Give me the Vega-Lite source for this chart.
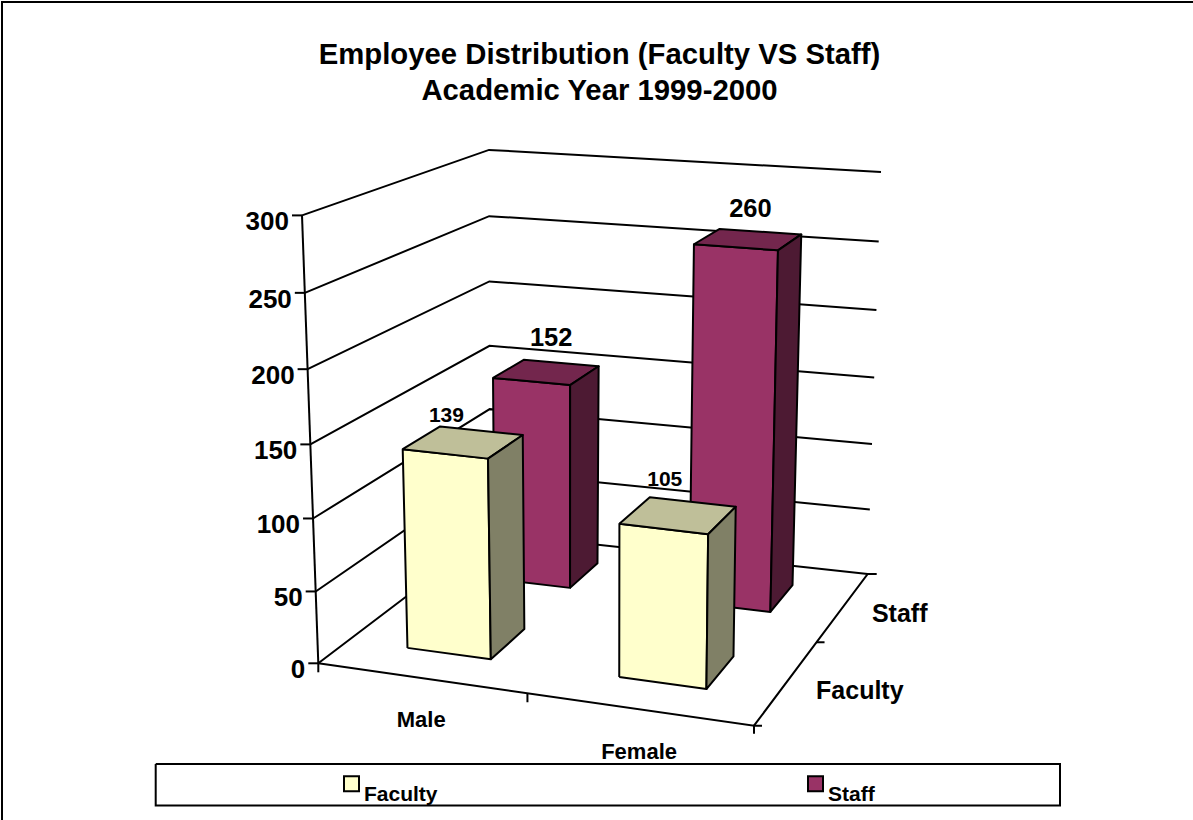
{
"$schema":"https://vega.github.io/schema/vega-lite/v6.json",
"width":1193,"height":820,"padding":0,"autosize":"none",
"background":"white",
"view":{"stroke":null},
"title":{"text":["Employee Distribution (Faculty VS Staff)","Academic Year 1999-2000"],"font":"Liberation Sans","fontSize":29.3,"fontWeight":"bold","color":"black","anchor":"middle","dx":3,"offset":-108,"lineHeight":36,"baseline":"top"},
"data":{"values":[
{"kind":"gridline","value":0},{"kind":"gridline","value":50},{"kind":"gridline","value":100},{"kind":"gridline","value":150},{"kind":"gridline","value":200},{"kind":"gridline","value":250},{"kind":"gridline","value":300},
{"kind":"floor"},
{"kind":"xcat","name":"Male"},{"kind":"xcat","name":"Female"},
{"kind":"ycat","name":"Faculty"},{"kind":"ycat","name":"Staff"},
{"kind":"bar","gender":"Male","series":"Staff","count":152},
{"kind":"bar","gender":"Female","series":"Staff","count":260},
{"kind":"bar","gender":"Male","series":"Faculty","count":139},
{"kind":"bar","gender":"Female","series":"Faculty","count":105}
]},
"transform":[
{"calculate":"datum.kind=='bar'?[{role:'face',face:'1front',o:0,a:0,b:0,t:0},{role:'face',face:'1front',o:1,a:1,b:0,t:0},{role:'face',face:'1front',o:2,a:1,b:0,t:1},{role:'face',face:'1front',o:3,a:0,b:0,t:1},{role:'face',face:'1front',o:4,a:0,b:0,t:0},{role:'face',face:'2top',o:0,a:0,b:0,t:1},{role:'face',face:'2top',o:1,a:1,b:0,t:1},{role:'face',face:'2top',o:2,a:1,b:1,t:1},{role:'face',face:'2top',o:3,a:0,b:1,t:1},{role:'face',face:'2top',o:4,a:0,b:0,t:1},{role:'face',face:'3side',o:0,a:1,b:0,t:0},{role:'face',face:'3side',o:1,a:1,b:1,t:0},{role:'face',face:'3side',o:2,a:1,b:1,t:1},{role:'face',face:'3side',o:3,a:1,b:0,t:1},{role:'face',face:'3side',o:4,a:1,b:0,t:0},{role:'barLabel',o:0,a:0.5,b:1,t:1,ox:datum.series=='Staff'?-10:(datum.gender=='Male'?-35:-28),oy:datum.series=='Staff'?(datum.gender=='Male'?-25:-23):(datum.gender=='Male'?-15:-22)}]:datum.kind=='gridline'?[{role:'line',face:'grid',o:0,u:0,v:0},{role:'line',face:'grid',o:1,u:0,v:1},{role:'line',face:'grid',o:2,u:1,v:1},{role:'line',face:'tick',o:0,u:0,v:0,ox:0},{role:'line',face:'tick',o:1,u:0,v:0,ox:-10},{role:'valueLabel',o:0,u:0,v:0,ox:-13,oy:7}]:datum.kind=='floor'?[{role:'line',face:'axis',o:0,u:0,v:0,val:0},{role:'line',face:'axis',o:1,u:0,v:0,val:300},{role:'line',face:'edge',o:0,u:0,v:0},{role:'line',face:'edge',o:1,u:1,v:0},{role:'line',face:'edge',o:2,u:1,v:1},{role:'line',face:'edge',o:3,u:1,v:1,ox:9},{role:'line',face:'t1',o:0,u:0,v:0},{role:'line',face:'t1',o:1,u:0,v:0,oy:9},{role:'line',face:'t2',o:0,u:0.48,v:0},{role:'line',face:'t2',o:1,u:0.48,v:0,oy:9},{role:'line',face:'t3',o:0,u:1,v:0,oy:8},{role:'line',face:'t3',o:1,u:1,v:0},{role:'line',face:'t3',o:2,u:1,v:0,ox:8},{role:'line',face:'t4',o:0,u:1,v:0.55},{role:'line',face:'t4',o:1,u:1,v:0.55,ox:8},{role:'line',face:'border',o:0,ax:2,ay:820},{role:'line',face:'border',o:1,ax:2,ay:2},{role:'line',face:'border',o:2,ax:1193,ay:2},{role:'line',face:'legendbox',o:0,ax:155.7,ay:764},{role:'line',face:'legendbox',o:1,ax:1060,ay:764},{role:'line',face:'legendbox',o:2,ax:1060,ay:805.5},{role:'line',face:'legendbox',o:3,ax:155.7,ay:805.5},{role:'line',face:'legendbox',o:4,ax:155.7,ay:764}]:datum.kind=='xcat'?[{role:'catLabel',o:0,u:datum.name=='Male'?0.25:0.75,v:0,ox:-6,oy:datum.name=='Male'?41:42}]:[{role:'serLabel',o:0,u:1,v:datum.name=='Faculty'?0.28:0.78,ox:datum.name=='Faculty'?74:57,oy:datum.name=='Faculty'?8:7}]","as":"vert"},
{"flatten":["vert"]},
{"calculate":"datum.vert.role","as":"role"},
{"calculate":"(datum.gender||'')+(datum.series||'')+(datum.value==null?'':datum.value)+(datum.vert.face||'')","as":"path"},
{"calculate":"datum.vert.o","as":"ord"},
{"calculate":"datum.kind=='bar'?(datum.gender=='Male'?(datum.series=='Faculty'?0.137+datum.vert.a*0.196:0.142+datum.vert.a*0.191):0.635+datum.vert.a*0.205):datum.vert.u","as":"u"},
{"calculate":"datum.kind=='bar'?(datum.series=='Faculty'?0.18+datum.vert.b*0.22:0.7+datum.vert.b*0.18):datum.vert.v","as":"w"},
{"calculate":"datum.vert.val!=null?datum.vert.val:datum.kind=='bar'?datum.count*datum.vert.t:(datum.kind=='gridline'?datum.value:0)","as":"val"},
{"calculate":"318.3+datum.u*435.7+datum.w*171.7-58*datum.u*datum.w","as":"x0"},
{"calculate":"663.3+datum.u*62.4-datum.w*130.3-21.4*datum.u*datum.w","as":"y0"},
{"calculate":"datum.val*(0.955+0.045*datum.val/300)","as":"h"},
{"calculate":"datum.vert.ax!=null?datum.vert.ax:datum.x0+(-16.3+23.8*datum.u+15.3*datum.w-9.5*datum.u*datum.w)*datum.h/300+(datum.vert.ox||0)","as":"px"},
{"calculate":"datum.vert.ay!=null?datum.vert.ay:datum.y0-datum.h*(1.493+0.08*datum.u-0.216*datum.w-0.017*datum.u*datum.w)+(datum.vert.oy||0)","as":"py"},
{"calculate":"datum.series=='Faculty'?(datum.vert.face=='1front'?'#FFFFCC':datum.vert.face=='2top'?'#BFBF99':'#808066'):(datum.vert.face=='1front'?'#993366':datum.vert.face=='2top'?'#73264D':'#4D1A33')","as":"shade"},
{"calculate":"datum.kind=='bar'?''+datum.count:datum.kind=='gridline'?''+datum.value:datum.name","as":"label"}
],
"encoding":{
"x":{"field":"px","type":"quantitative","scale":{"domain":[0,1193],"nice":false,"zero":false},"axis":null},
"y":{"field":"py","type":"quantitative","scale":{"domain":[820,0],"nice":false,"zero":false},"axis":null}
},
"layer":[
{"transform":[{"filter":"datum.role=='line'"}],
"mark":{"type":"line","stroke":"black","strokeWidth":2,"clip":false},
"encoding":{"detail":{"field":"path"},"order":{"field":"ord"}}},
{"transform":[{"filter":"datum.role=='face'"}],
"mark":{"type":"line","stroke":"black","strokeWidth":2,"strokeJoin":"round"},
"encoding":{"fill":{"field":"shade","type":"nominal","scale":null,"legend":null},"detail":{"field":"path"},"order":{"field":"ord"}}},
{"transform":[{"filter":"datum.role=='barLabel'"}],
"mark":{"type":"point","size":0,"filled":true,"opacity":1},
"encoding":{"color":{"field":"series","type":"nominal","scale":{"domain":["Faculty","Staff"],"range":["#FFFFCC","#993366"]},"legend":{"title":null,"orient":"none","legendX":341,"legendY":773,"direction":"horizontal","columns":2,"columnPadding":366,"symbolType":"square","symbolSize":225,"symbolStrokeColor":"black","symbolStrokeWidth":2,"labelFont":"Liberation Sans","labelFontWeight":"bold","labelFontSize":21,"labelColor":"black","labelOffset":2,"labelBaseline":"top"}}}},
{"transform":[{"filter":"datum.role=='barLabel'"}],
"mark":{"type":"text","font":"Liberation Sans","fontWeight":"bold","color":"black"},
"encoding":{"text":{"field":"label"},"size":{"condition":{"test":"datum.series=='Faculty'","value":21},"value":25.5}}},
{"transform":[{"filter":"datum.role=='valueLabel'"}],
"mark":{"type":"text","font":"Liberation Sans","fontWeight":"bold","fontSize":26,"align":"right","color":"black"},
"encoding":{"text":{"field":"label"}}},
{"transform":[{"filter":"datum.role=='catLabel'"}],
"mark":{"type":"text","font":"Liberation Sans","fontWeight":"bold","fontSize":22,"color":"black"},
"encoding":{"text":{"field":"label"}}},
{"transform":[{"filter":"datum.role=='serLabel'"}],
"mark":{"type":"text","font":"Liberation Sans","fontWeight":"bold","fontSize":25,"color":"black"},
"encoding":{"text":{"field":"label"}}}
]
}
